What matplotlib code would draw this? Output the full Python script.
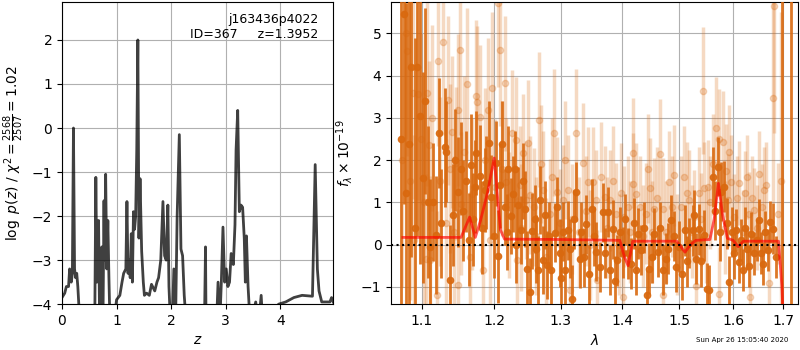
import numpy as np
import matplotlib
matplotlib.use('Agg')
import matplotlib.pyplot as plt
from matplotlib.ticker import FixedLocator, FixedFormatter, NullLocator

# p(z) curve
pz_z = [0.00, 0.05, 0.08, 0.12, 0.14, 0.17, 0.19, 0.21, 0.23, 0.25, 0.27, 0.29, 0.33,
        0.60, 0.62, 0.64, 0.67, 0.69, 0.70, 0.73, 0.75, 0.77, 0.78, 0.80, 0.82, 0.84, 0.86, 0.88,
        0.94, 1.00, 1.06, 1.10, 1.13, 1.17, 1.19, 1.21, 1.23, 1.25, 1.27, 1.29, 1.31, 1.33,
        1.35, 1.37, 1.39, 1.41, 1.43, 1.46, 1.49, 1.51, 1.55, 1.60, 1.64, 1.70, 1.74, 1.77,
        1.81, 1.85, 1.88, 1.91, 1.94, 1.96, 1.99, 2.02, 2.05, 2.08, 2.11, 2.15, 2.18, 2.21,
        2.24, 2.28, 2.61, 2.63, 2.64, 2.66, 2.83, 2.86, 2.89, 2.92, 2.95, 2.98, 3.01, 3.04,
        3.07, 3.10, 3.14, 3.17, 3.19, 3.22, 3.25, 3.28, 3.31, 3.34, 3.36, 3.38, 3.41, 3.45,
        3.55, 3.60, 3.65, 3.68, 3.97, 4.10, 4.25, 4.40, 4.59, 4.64, 4.68, 4.71, 4.76, 4.91,
        4.94, 4.97]
pz_logp = [-3.85, -3.75, -3.6, -3.6, -3.2, -3.5, -3.3, 0.0, -3.2, -3.4, -3.3, -3.6, -4.5,
           -4.5, -1.12, -3.5, -2.1, -4.5, -3.6, -2.7, -4.5, -1.65, -3.0, -1.05, -3.2, -2.1, -3.4, -4.5,
           -4.5, -3.9, -3.8, -3.5, -3.3, -3.2, -1.67, -3.3, -3.0, -3.4, -2.4, -3.5, -1.9, -2.3,
           -2.0, -0.5, 2.0, -2.5, -1.15, -2.8, -3.5, -3.8, -3.75, -3.8, -3.55, -3.7, -3.5, -3.4,
           -3.0, -1.67, -2.9, -3.0, -1.75, -3.6, -4.5, -4.5, -3.2, -4.5, -2.0, -0.15, -2.75, -2.9,
           -3.8, -4.5, -4.5, -2.7, -4.5, -4.5, -4.5, -3.5, -4.5, -3.5, -2.25, -3.5, -3.2, -3.6,
           -3.5, -2.85, -3.1, -2.2, -0.5, 0.4, -1.9, -1.75, -1.8, -2.5, -3.5, -2.45, -3.6, -4.5,
           -3.95, -4.5, -3.8, -4.5, -4.0, -3.95, -3.85, -3.8, -3.82, -0.83, -3.2, -3.7, -3.95, -3.95,
           -3.85, -3.95]

# spectrum, two sets of points (the later rows of each list are bars whose points are hidden)
dark_wave = [1.0721, 1.0760, 1.0795, 1.0829, 1.0860, 1.0903, 1.0934, 1.0969, 1.1013, 1.1044,
             1.1080, 1.1102, 1.1182, 1.1227, 1.1304, 1.1327, 1.1372, 1.1418, 1.1487, 1.1533,
             1.1603, 1.1640, 1.1673, 1.1720, 1.1743, 1.1800, 1.1862, 1.1886, 1.1948, 1.2030,
             1.2054, 1.2112, 1.2151, 1.2200, 1.2249, 1.2298, 1.2347, 1.2397, 1.2447, 1.2482,
             1.2522, 1.2562, 1.2623, 1.2684, 1.2724, 1.2786, 1.2853, 1.2904, 1.2982, 1.3035,
             1.3061, 1.3113, 1.3182, 1.3245, 1.3299, 1.3363, 1.3406, 1.3503, 1.3568, 1.3634,
             1.3678, 1.3760, 1.3843, 1.3871, 1.3910, 1.4011, 1.4095, 1.4152, 1.4209, 1.4266,
             1.4323, 1.4421, 1.4468, 1.4555, 1.4614, 1.4702, 1.4761, 1.4850, 1.4940, 1.4988,
             1.5108, 1.5181, 1.5242, 1.5304, 1.5365, 1.5458, 1.5508, 1.5551, 1.5614, 1.5708,
             1.5771, 1.5822, 1.5885, 1.5930, 1.6013, 1.6058, 1.6110, 1.6188, 1.6266, 1.6351,
             1.6417, 1.6503, 1.6582, 1.6682, 1.6729, 1.6783, 1.6973, 1.7157,
             1.1150, 1.1260, 1.1440, 1.1560, 1.1700, 1.1830, 1.1920, 1.1990, 1.2090, 1.2180,
             1.2270, 1.2320, 1.2420, 1.2600, 1.2650, 1.2750, 1.2820, 1.2940, 1.3010, 1.3150,
             1.3210, 1.3330, 1.3450, 1.3540, 1.3720, 1.3800, 1.3960, 1.4050, 1.4240, 1.4370,
             1.4510, 1.4660, 1.4800, 1.4900, 1.5050, 1.5140, 1.5270, 1.5400, 1.5660, 1.5750,
             1.5970, 1.6150, 1.6230, 1.6310, 1.6460, 1.6540, 1.6630, 1.6850]
dark_flux = [2.49, 5.47, 1.23, 2.39, 4.20, 0.40, 4.20, 3.04, 1.58, 3.40,
             1.00, -0.05, 0.22, 2.65, 2.30, 2.20, -0.83, 0.70, 1.25, 1.80,
             1.50, 0.12, 1.88, 1.37, 2.17, 1.62, 1.29, 1.46, 1.13, 1.92,
             -0.28, 2.39, 0.90, 1.80, 0.67, 1.80, 0.93, 0.34, 0.85, -0.57,
             -1.12, 0.32, -0.10, 1.05, -0.37, -0.49, -0.60, 0.28, -0.20, 0.30,
             -0.60, 0.34, -1.28, 1.25, -0.33, -0.30, 0.48, 0.85, -0.17, -0.53,
             0.76, 0.77, 0.36, -0.87, -0.37, -0.19, -0.21, -0.45, 0.50, 0.26,
             -0.13, -1.20, -0.57, 0.26, -0.17, -0.60, -0.33, 0.58, -0.53, -0.05,
             0.34, 0.04, 0.34, -0.33, 0.36, 0.22, -1.04, -1.08, 1.60, 1.84,
             1.25, 1.37, 0.50, -0.88, -0.21, 0.34, -0.41, -0.60, -0.10, 0.26,
             -0.21, 0.58, -0.45, -0.13, 0.54, 0.38, 7.00, 7.00,
             1.0, 0.5, 2.0, 0.8, 0.6, 0.4, 2.4, 0.2, 1.4, 0.3,
             1.2, 0.0, 1.5, 0.6, -0.6, 0.7, 0.2, 0.9, -0.8, -0.1,
             0.6, 0.3, -0.7, 0.2, -0.2, -0.6, 0.3, 0.6, -0.6, 0.4,
             -0.3, 0.4, -0.1, 0.2, -0.7, -0.4, 0.7, -0.4, 0.8, 0.3,
             0.3, 0.1, 0.4, -0.5, 0.1, -0.2, 0.3, -0.3]
dark_err = [4.5, 4.5, 4.5, 4.5, 4.5, 4.5, 4.0, 3.5, 2.5, 2.2,
            1.8, 1.6, 1.4, 1.3, 1.4, 1.2, 1.3, 1.2, 1.3, 1.1,
            1.2, 1.1, 1.2, 1.1, 1.0, 1.2, 1.0, 1.1, 1.0, 1.0,
            1.1, 1.0, 0.9, 1.0, 0.9, 0.9, 0.9, 0.8, 0.9, 0.9,
            0.8, 0.9, 0.8, 0.8, 0.8, 0.8, 0.8, 0.7, 0.8, 0.7,
            0.8, 0.7, 0.8, 0.7, 0.7, 0.7, 0.7, 0.7, 0.7, 0.6,
            0.7, 0.6, 0.7, 0.6, 0.6, 0.6, 0.6, 0.6, 0.6, 0.6,
            0.6, 0.6, 0.6, 0.6, 0.6, 0.6, 0.6, 0.6, 0.6, 0.6,
            0.6, 0.6, 0.6, 0.6, 0.6, 0.6, 0.6, 0.6, 0.7, 0.7,
            0.7, 0.6, 0.6, 0.6, 0.6, 0.5, 0.5, 0.5, 0.5, 0.5,
            0.5, 0.5, 0.5, 0.5, 0.5, 0.6, 10.0, 10.0,
            1.4, 1.3, 1.2, 1.2, 1.1, 1.1, 1.0, 1.0, 1.0, 0.9,
            0.9, 0.9, 0.9, 0.8, 0.8, 0.8, 0.8, 0.7, 0.8, 0.7,
            0.7, 0.7, 0.7, 0.7, 0.6, 0.6, 0.6, 0.6, 0.6, 0.6,
            0.6, 0.6, 0.6, 0.6, 0.6, 0.6, 0.6, 0.6, 0.7, 0.7,
            0.6, 0.5, 0.5, 0.5, 0.5, 0.5, 0.5, 0.5]

light_wave = [1.0786, 1.0803, 1.0882, 1.0890, 1.0947, 1.1058, 1.1066, 1.1100, 1.1110, 1.1200,
              1.1214, 1.1282, 1.1350, 1.1409, 1.1464, 1.1485, 1.1490, 1.1510, 1.1533, 1.1650,
              1.1743, 1.1758, 1.1800, 1.1838, 1.1910, 1.1933, 1.1972, 1.2006, 1.2054, 1.2078,
              1.2160, 1.2170, 1.2263, 1.2323, 1.2330, 1.2372, 1.2422, 1.2472, 1.2522, 1.2582,
              1.2663, 1.2724, 1.2776, 1.2827, 1.2889, 1.2946, 1.3035, 1.3113, 1.3140, 1.3235,
              1.3352, 1.3433, 1.3514, 1.3565, 1.3575, 1.3705, 1.3788, 1.3899, 1.3983, 1.4011,
              1.4039, 1.4095, 1.4180, 1.4192, 1.4295, 1.4410, 1.4479, 1.4555, 1.4661, 1.4700,
              1.4710, 1.4820, 1.4910, 1.5030, 1.5133, 1.5181, 1.5273, 1.5304, 1.5365, 1.5427,
              1.5458, 1.5520, 1.5677, 1.5727, 1.5740, 1.5803, 1.5866, 1.5898, 1.5962, 1.6026,
              1.6123, 1.6240, 1.6318, 1.6325, 1.6417, 1.6516, 1.6649, 1.6716, 1.6783, 1.6817,
              1.6884,
              1.0740, 1.0840, 1.0990, 1.1030, 1.1140, 1.1240, 1.1320, 1.1380, 1.1430, 1.1570,
              1.1610, 1.1690, 1.1870, 1.2110, 1.2210, 1.2400, 1.2500, 1.2620, 1.2700, 1.2860,
              1.2990, 1.3070, 1.3180, 1.3290, 1.3400, 1.3470, 1.3640, 1.3740, 1.3850, 1.3940,
              1.4130, 1.4240, 1.4350, 1.4440, 1.4520, 1.4600, 1.4760, 1.4860, 1.4960, 1.5080,
              1.5220, 1.5390, 1.5480, 1.5560, 1.5610, 1.5840, 1.5930, 1.6070, 1.6190, 1.6280,
              1.6370, 1.6460, 1.6570, 1.6600, 1.6950]
light_flux = [5.00, 4.59, 3.58, 0.10, 3.56, -0.33, 3.58, 2.35, -0.37, -1.20,
              4.34, 4.80, 3.42, 2.67, 1.92, 3.18, -0.96, 4.60, 0.97, -0.29,
              3.51, 3.38, 3.02, -0.59, 3.18, 0.10, 3.70, 1.37, 5.73, 4.60,
              3.82, 1.49, 2.63, 2.47, -0.37, 1.41, 2.16, 1.05, 1.17, 0.89,
              2.96, 1.29, -0.29, 0.73, 2.65, 1.25, 1.05, 1.29, -1.08, 2.65,
              1.94, 1.49, 1.49, 1.05, -0.85, 1.13, 1.05, 0.73, 1.21, -1.24,
              0.66, 0.89, 1.43, 2.16, 0.89, 0.73, 1.33, 0.85, 2.14, 0.85,
              -1.20, 1.49, 1.64, 0.89, 1.22, 1.05, 0.66, -0.99, 1.22, 3.64,
              1.33, 1.37, 2.77, 2.49, -1.16, 2.43, 1.75, 1.05, 1.49, 0.66,
              1.46, 1.22, 0.73, -1.24, 0.81, 1.68, 1.42, -0.92, 3.48, 5.65,
              0.73,
              2.0, 1.5, 2.5, 1.0, 3.0, 1.5, 0.5, 1.8, 0.3, 2.2,
              3.8, 1.2, 2.0, 1.8, 0.7, 0.4, 2.4, 0.2, 1.9, 1.6,
              0.5, 2.0, 0.6, 0.3, 0.8, 0.0, 1.6, 0.4, 1.5, 0.0,
              0.3, 1.2, 0.2, 1.8, 0.3, 1.1, 0.3, 0.9, 0.0, 1.6,
              0.3, 0.6, 0.2, 1.0, 1.9, 0.4, 2.2, 1.1, 0.3, 1.6,
              1.1, 0.4, 0.9, 1.3, 1.5]
light_err = [2.5, 2.5, 2.5, 2.5, 2.5, 2.0, 2.2, 2.0, 2.0, 2.0,
             2.0, 2.2, 2.0, 1.8, 1.8, 1.8, 1.8, 2.0, 1.7, 1.7,
             1.8, 1.8, 1.7, 1.7, 1.7, 1.6, 1.8, 1.6, 2.0, 1.8,
             1.6, 1.5, 1.5, 1.5, 1.5, 1.4, 1.4, 1.4, 1.4, 1.4,
             1.6, 1.4, 1.4, 1.3, 1.5, 1.3, 1.3, 1.3, 1.3, 1.5,
             1.4, 1.3, 1.3, 1.2, 1.2, 1.2, 1.2, 1.2, 1.2, 1.2,
             1.2, 1.2, 1.2, 1.3, 1.2, 1.2, 1.2, 1.2, 1.3, 1.2,
             1.2, 1.2, 1.2, 1.2, 1.2, 1.2, 1.1, 1.1, 1.1, 1.5,
             1.1, 1.1, 1.2, 1.2, 1.1, 1.2, 1.1, 1.1, 1.1, 1.0,
             1.0, 1.0, 1.0, 1.0, 1.0, 1.0, 1.0, 1.0, 2.5, 3.0,
             1.2,
             3.0, 2.8, 2.5, 2.5, 2.2, 2.0, 2.0, 2.0, 1.8, 1.8,
             1.8, 1.8, 1.7, 1.6, 1.5, 1.5, 1.5, 1.4, 1.4, 1.4,
             1.3, 1.4, 1.3, 1.3, 1.3, 1.3, 1.3, 1.2, 1.3, 1.2,
             1.2, 1.2, 1.2, 1.3, 1.2, 1.2, 1.2, 1.2, 1.2, 1.2,
             1.1, 1.1, 1.1, 1.1, 1.2, 1.1, 1.1, 1.0, 1.0, 1.0,
             1.0, 1.0, 1.0, 1.0, 4.0]

model_wave = [1.075, 1.153, 1.165, 1.173, 1.180, 1.190, 1.200, 1.209, 1.215, 1.300,
              1.396, 1.404, 1.410, 1.418, 1.495, 1.510, 1.520, 1.530, 1.556, 1.564,
              1.572, 1.580, 1.589, 1.600, 1.610, 1.620, 1.690, 1.697, 1.702]
model_flux = [0.17, 0.17, 0.65, 0.17, 0.55, 1.2, 2.05, 0.35, 0.13, 0.12,
              0.10, -0.3, -0.5, 0.08, 0.08, -0.18, 0.0, 0.1, 0.12, 0.6,
              1.45, 0.7, 0.15, 0.1, -0.05, 0.08, 0.08, -1.0, -2.5]

orange = '#d9690f'

fig = plt.figure(figsize=(8, 3.5), dpi=100)
ax1 = fig.add_axes([0.0775, 0.131, 0.339, 0.863])
ax2 = fig.add_axes([0.489, 0.131, 0.509, 0.863])

ax1.plot(pz_z, pz_logp, color='k', alpha=0.75, lw=2)
ax1.set_xlim(0, 4.97)
ax1.set_ylim(-4, 2.86)
ax1.set_xlabel('$z$')
ax1.set_ylabel(r'$\log\ p(z)$' + ' / ' + r'$\chi^2=\frac{2568}{2507}=1.02$')
ax1.grid()
ax1.text(0.945, 0.965, 'j163436p4022\nID=367     z=1.3952', ha='right', va='top',
         fontsize=9, transform=ax1.transAxes)

ax2.errorbar(light_wave, light_flux, yerr=light_err, color=orange, alpha=0.25,
             marker='o', ms=4.5, linestyle='none', elinewidth=2.5, zorder=2)
ax2.errorbar(dark_wave, dark_flux, yerr=dark_err, color=orange, alpha=0.9,
             marker='o', ms=4.5, linestyle='none', elinewidth=2, zorder=3)
ax2.plot(model_wave, model_flux, color='red', alpha=0.65, lw=2, zorder=4)
ax2.axhline(0, color='k', linestyle=':', lw=1.5, zorder=5)

ax2.set_xscale('log')
ax2.set_xlim(1.06, 1.731)
ax2.set_ylim(-1.41, 5.74)
xt = [1.1, 1.2, 1.3, 1.4, 1.5, 1.6, 1.7]
ax2.xaxis.set_major_locator(FixedLocator(xt))
ax2.xaxis.set_major_formatter(FixedFormatter(['%.1f' % v for v in xt]))
ax2.xaxis.set_minor_locator(NullLocator())
ax2.set_xlabel(r'$\lambda$')
ax2.set_ylabel(r'$f_\lambda\times10^{-19}$')
ax2.grid()

fig.text(0.985, 0.028, 'Sun Apr 26 15:05:40 2020', ha='right', va='center', fontsize=5)

fig.savefig('out.png')
